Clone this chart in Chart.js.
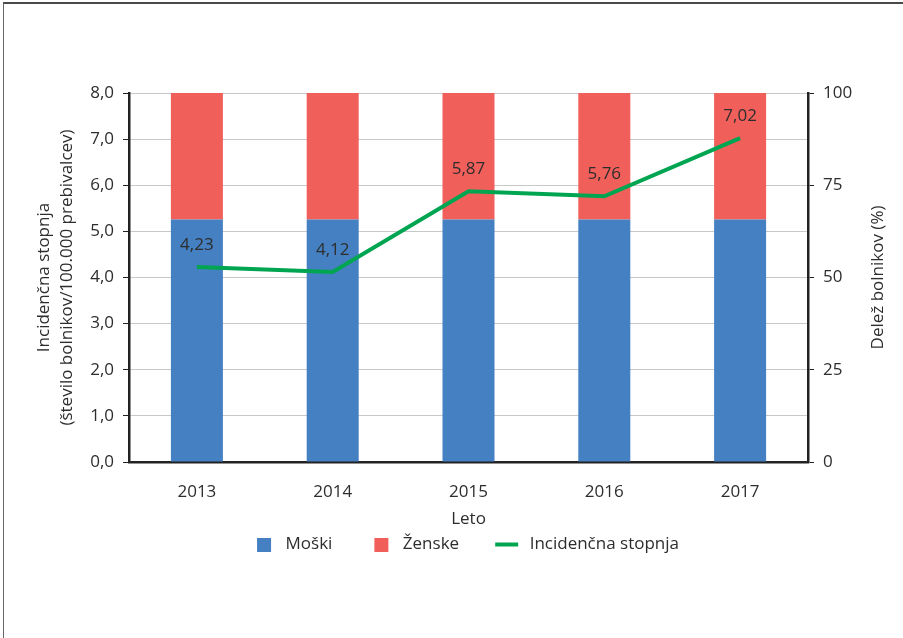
<!DOCTYPE html>
<html>
<head>
<meta charset="utf-8">
<script src="https://cdn.jsdelivr.net/npm/chart.js@4.4.1/dist/chart.umd.min.js"></script>
<style>
  body { margin: 0; background: #fff; }
  #wrap { position: relative; width: 903px; height: 638px; }
  #frame { position: absolute; left: 3px; top: 2px; right: 0; bottom: 0;
           border-top: 2px solid #4a4a4a; border-left: 1px solid #666; pointer-events: none; }
</style>
</head>
<body>
<div id="wrap">
  <canvas id="graf" width="903" height="638"></canvas>
  <div id="frame"></div>
</div>
<script>
// podatki
const leta = ['2013', '2014', '2015', '2016', '2017'];
const delezMoski = [65.7, 65.7, 65.7, 65.7, 65.7];
const delezZenske = [34.3, 34.3, 34.3, 34.3, 34.3];
const incidenca = [4.23, 4.12, 5.87, 5.76, 7.02];

const MODRA = '#4580c2';
const RDECA = '#f15f5a';
const ZELENA = '#00a551';
const TEKST = '#2d2d2d';
const PISAVA = "'Open Sans', sans-serif";
const VELIKOST = 17;

const vejica = (v, d) => v.toFixed(d).replace('.', ',');

Chart.defaults.font.family = PISAVA;
Chart.defaults.font.size = VELIKOST;
Chart.defaults.color = TEKST;

// sličice za legendo (kvadrat ali črta, z odmikom na levi)
function oznaka(barva, crta) {
  const c = document.createElement('canvas');
  c.width = 55; c.height = 14;
  const g = c.getContext('2d');
  g.fillStyle = barva;
  if (crta) g.fillRect(29, 5, 23, 4);
  else g.fillRect(35, 0, 14, 14);
  return c;
}
const oznakeLegende = [oznaka(MODRA), oznaka(RDECA), oznaka(ZELENA, true)];

// vrednosti nad črto
const oznakeVrednosti = {
  id: 'oznakeVrednosti',
  afterDatasetsDraw(chart) {
    const ctx = chart.ctx;
    const meta = chart.getDatasetMeta(2);
    ctx.save();
    ctx.font = VELIKOST + 'px ' + PISAVA;
    ctx.fillStyle = TEKST;
    ctx.textAlign = 'center';
    ctx.textBaseline = 'middle';
    meta.data.forEach((pt, i) => ctx.fillText(vejica(incidenca[i], 2), pt.x, pt.y - 22));
    ctx.restore();
  }
};

// naslov desne osi, obrnjen kot levi
const desniNaslov = {
  id: 'desniNaslov',
  afterLayout(chart) {
    // legenda naj se ne centrira skupaj s praznim robom prve sličice
    chart.legend.left -= 18;
    chart.legend.right -= 18;
  },
  afterDraw(chart) {
    const {ctx, chartArea} = chart;
    const os = chart.scales.y1;
    ctx.save();
    ctx.translate(os.right - 25, (chartArea.top + chartArea.bottom) / 2);
    ctx.rotate(-Math.PI / 2);
    ctx.font = VELIKOST + 'px ' + PISAVA;
    ctx.fillStyle = TEKST;
    ctx.textAlign = 'center';
    ctx.textBaseline = 'middle';
    ctx.fillText('Delež bolnikov (%)', 0, 0);
    ctx.restore();
  }
};

new Chart(document.getElementById('graf'), {
  type: 'bar',
  data: {
    labels: leta,
    datasets: [
      { label: 'Moški', data: delezMoski, backgroundColor: MODRA, yAxisID: 'y1', order: 1,
        barPercentage: 0.383, categoryPercentage: 1 },
      { label: 'Ženske', data: delezZenske, backgroundColor: RDECA, yAxisID: 'y1', order: 1,
        barPercentage: 0.383, categoryPercentage: 1 },
      { type: 'line', label: 'Incidenčna stopnja', data: incidenca, yAxisID: 'y', order: 0,
        borderColor: ZELENA, backgroundColor: ZELENA, borderWidth: 4, pointRadius: 0, tension: 0 }
    ]
  },
  options: {
    responsive: false,
    animation: false,
    layout: { padding: { top: 93, left: 0, right: 0, bottom: 75 } },
    plugins: {
      tooltip: { enabled: false },
      legend: {
        position: 'bottom',
        fullSize: false,
        labels: {
          usePointStyle: true,
          pointStyleWidth: 55,
          boxHeight: 14,
          padding: 7,
          color: TEKST,
          generateLabels: chart =>
            Chart.defaults.plugins.legend.labels.generateLabels(chart)
              .sort((a, b) => a.datasetIndex - b.datasetIndex)
              .map(it => Object.assign(it, { pointStyle: oznakeLegende[it.datasetIndex] }))
        }
      }
    },
    scales: {
      x: {
        stacked: true,
        grid: { display: false },
        border: { color: '#222', width: 2.5 },
        ticks: { padding: 12, color: TEKST },
        title: { display: true, text: 'Leto', color: TEKST, padding: { top: 0, bottom: 0 },
                 font: { size: VELIKOST, lineHeight: '20px' } },
        afterFit: s => { s.height = 67; }
      },
      y: {
        position: 'left',
        min: 0, max: 8,
        ticks: { stepSize: 1, padding: 9, color: TEKST, callback: v => vejica(v, 1) },
        grid: { color: '#c8c8c8', tickColor: '#222', tickLength: 6 },
        border: { color: '#222', width: 2.5 },
        title: {
          display: true,
          text: ['Incidenčna stopnja', '(število bolnikov/100.000 prebivalcev)'],
          color: TEKST,
          padding: { top: 33, bottom: 0 },
          font: { size: VELIKOST, lineHeight: '23px' }
        },
        afterFit: s => { s.width = 129; }
      },
      y1: {
        position: 'right',
        stacked: true,
        min: 0, max: 100,
        ticks: { stepSize: 25, padding: 9, color: TEKST },
        grid: { drawOnChartArea: false, color: '#222', tickColor: '#222', tickLength: 6 },
        border: { color: '#222', width: 2.5 },
        afterFit: s => { s.width = 95; }
      }
    }
  },
  plugins: [oznakeVrednosti, desniNaslov]
});
</script>
</body>
</html>
